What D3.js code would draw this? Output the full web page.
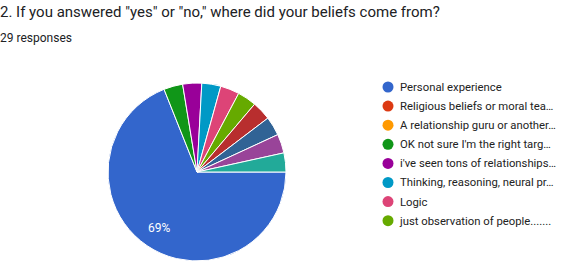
<!DOCTYPE html>
<html><head><meta charset="utf-8">
<script src="https://cdn.jsdelivr.net/npm/d3@7"></script>
<style>
html,body{margin:0;padding:0;background:#fff;overflow:hidden;}
text{font-family:Roboto, Arial, sans-serif;}
</style></head>
<body><svg id="c" width="573" height="268"></svg>
<script>
const title = "2. If you answered \"yes\" or \"no,\" where did your beliefs come from?";
const subtitle = "29 responses";
const categories = [
  "Personal experience",
  "Religious beliefs or moral tea…",
  "A relationship guru or another…",
  "OK not sure I'm the right targ…",
  "i've seen tons of relationships…",
  "Thinking, reasoning, neural pr…",
  "Logic",
  "just observation of people.......",
  "(legend page 2) 9",
  "(legend page 2) 10",
  "(legend page 2) 11",
  "(legend page 2) 12"
];
const counts = [20, 0, 0, 1, 1, 1, 1, 1, 1, 1, 1, 1];
const colors = ["#3366cc","#dc3912","#ff9900","#109618","#990099","#0099c6","#dd4477","#66aa00","#b82e2e","#316395","#994499","#22aa99"];
const legendShown = 8;

const svg = d3.select("#c");
svg.append("text").attr("x", 0).attr("y", 17).attr("font-size", 15).attr("fill", "#202124").text(title);
svg.append("text").attr("x", 0).attr("y", 42).attr("font-size", 12).attr("fill", "#202124").text(subtitle);

const cx = 197, cy = 172, r = 89;
const data = categories.map((c, i) => ({c, v: counts[i], col: colors[i]}));
const total = d3.sum(counts);
const pie = d3.pie().value(d => d.v).sort(null).startAngle(Math.PI / 2).endAngle(Math.PI / 2 + 2 * Math.PI);
const arcs = pie(data);
const arc = d3.arc().innerRadius(0).outerRadius(r);
const g = svg.append("g").attr("transform", `translate(${cx},${cy})`);
g.selectAll("path").data(arcs.filter(a => a.data.v > 0)).join("path")
  .attr("d", arc).attr("fill", d => d.data.col).attr("stroke", "#fff").attr("stroke-width", 1);
const labelArc = d3.arc().innerRadius(r * 0.76).outerRadius(r * 0.76);
g.selectAll("text.lbl").data(arcs.filter(a => a.data.v / total > 0.05)).join("text")
  .attr("class", "lbl")
  .attr("transform", d => `translate(${labelArc.centroid(d)})`)
  .attr("text-anchor", "middle").attr("dy", "0.35em")
  .attr("font-size", 12).attr("fill", "#fff")
  .text(d => Math.round(d.data.v / total * 100) + "%");

const lg = svg.append("g");
const rows = lg.selectAll("g").data(data.slice(0, legendShown)).join("g")
  .attr("transform", (d, i) => `translate(388,${87 + i * 19.1})`);
rows.append("circle").attr("r", 5.5).attr("fill", d => d.col);
rows.append("text").attr("x", 12).attr("dy", "0.35em").attr("font-size", 11.3).attr("fill", "#222").text(d => d.c);
</script></body></html>
